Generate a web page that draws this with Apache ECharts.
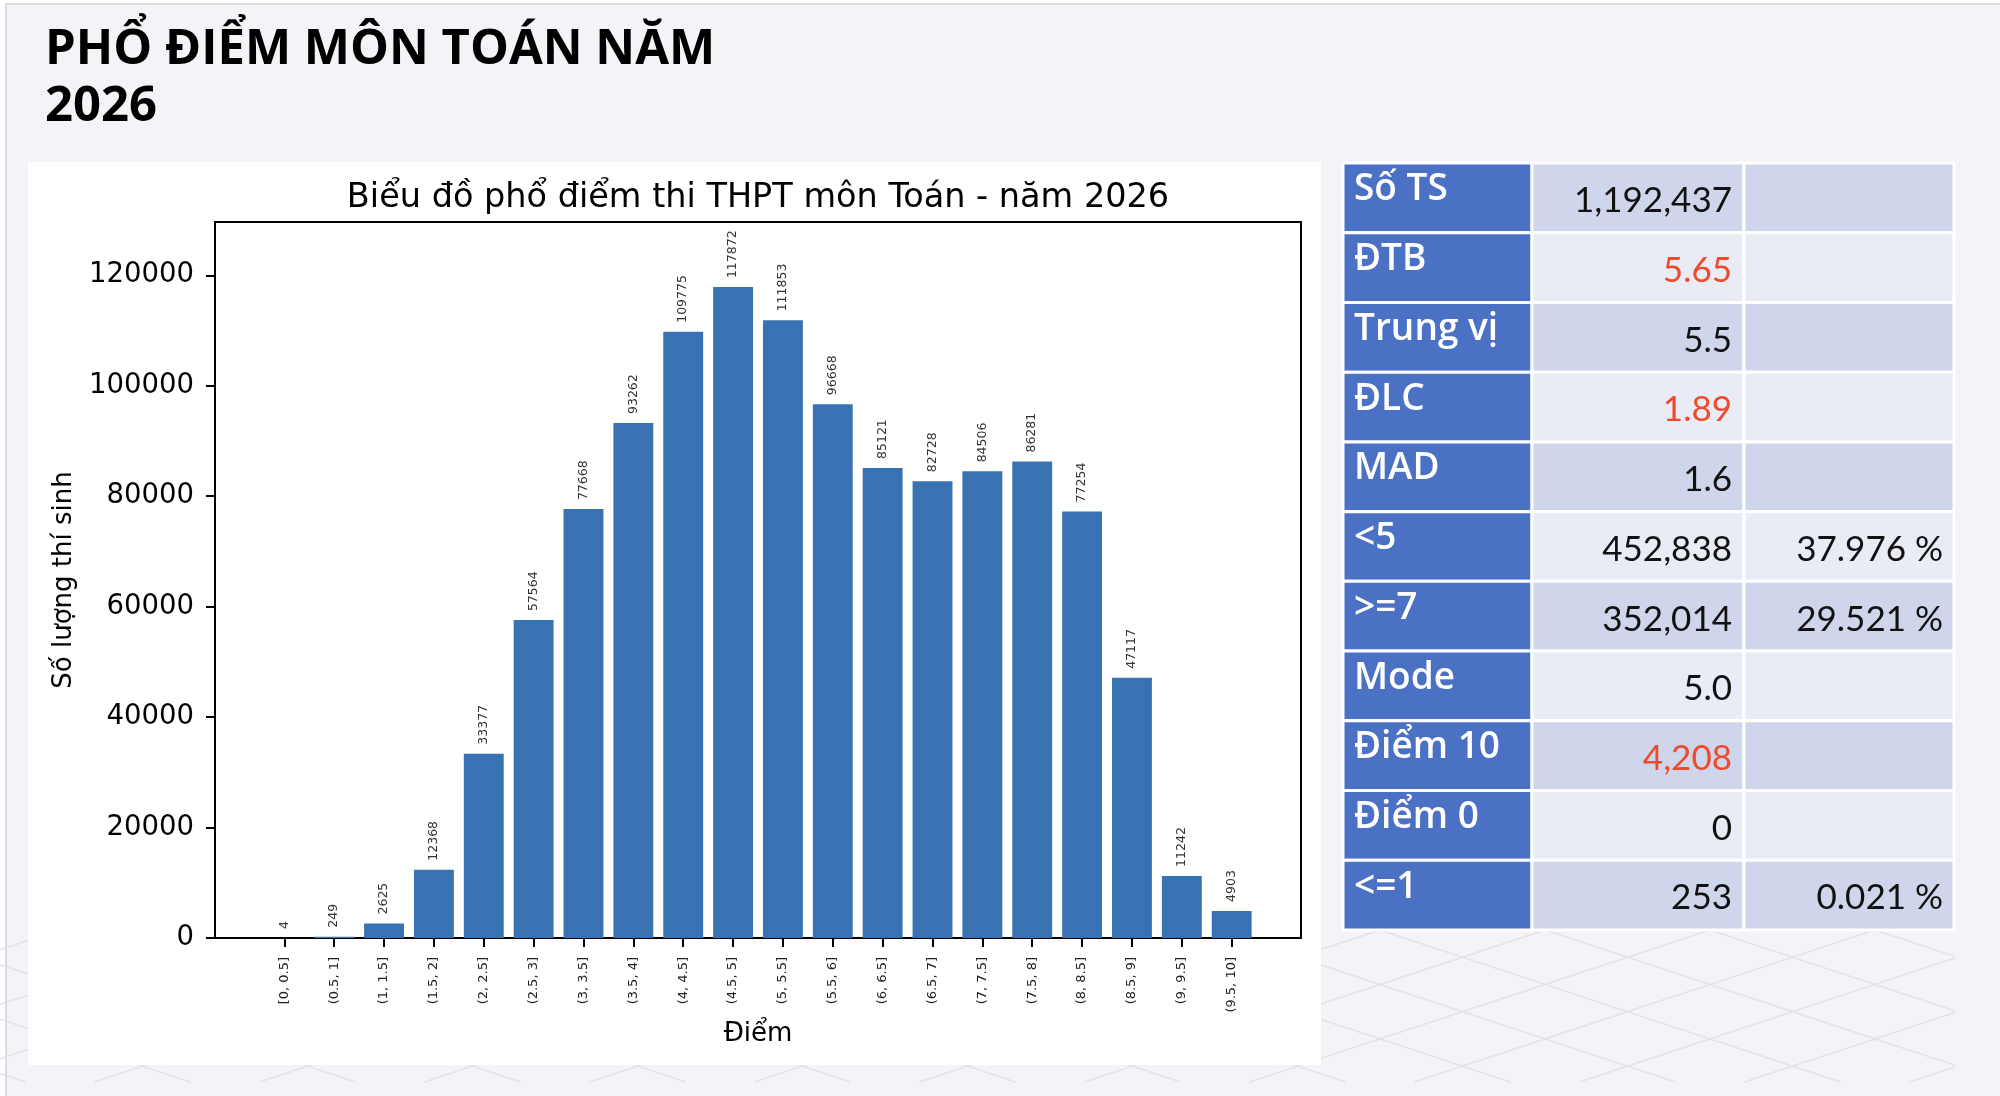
<!DOCTYPE html>
<html>
<head>
<meta charset="utf-8">
<script src="https://cdn.jsdelivr.net/npm/echarts@6.0.0/dist/echarts.min.js"></script>
<style>
html, body { margin: 0; padding: 0; background: #fff; }
#main { width: 2000px; height: 1096px; }
</style>
</head>
<body>
<div id="main"></div>
<script>
// score bins and number of candidates per bin
var scoreBins = ['[0, 0.5]', '(0.5, 1]', '(1, 1.5]', '(1.5, 2]', '(2, 2.5]', '(2.5, 3]', '(3, 3.5]', '(3.5, 4]', '(4, 4.5]', '(4.5, 5]',
    '(5, 5.5]', '(5.5, 6]', '(6, 6.5]', '(6.5, 7]', '(7, 7.5]', '(7.5, 8]', '(8, 8.5]', '(8.5, 9]', '(9, 9.5]', '(9.5, 10]'];
var studentCounts = [4, 249, 2625, 12368, 33377, 57564, 77668, 93262, 109775, 117872,
    111853, 96668, 85121, 82728, 84506, 86281, 77254, 47117, 11242, 4903];
var yTicks = [0, 20000, 40000, 60000, 80000, 100000, 120000];

// summary table
var statLabels = ['Số TS', 'ĐTB', 'Trung vị', 'ĐLC', 'MAD', '<5', '>=7', 'Mode', 'Điểm 10', 'Điểm 0', '<=1'];
var statValues = ['1,192,437', '5.65', '5.5', '1.89', '1.6', '452,838', '352,014', '5.0', '4,208', '0', '253'];
var statPercents = ['', '', '', '', '', '37.976 %', '29.521 %', '', '', '', '0.021 %'];
var redStats = ['ĐTB', 'ĐLC', 'Điểm 10'];

var chart = echarts.init(document.getElementById('main'));

var plot = { left: 215, top: 222, width: 1086, height: 716 };
var xMin = -1.39, xMax = 20.39;
var barW = plot.width / (xMax - xMin) * 0.8;
var mpl = 'DejaVu Sans';
var colEdges = [0, 0.3093, 0.6563, 1];

function lattice() {
    // faint floor pattern behind the panels
    var out = [], y0 = 930, y1 = 1082, s = 0.33, dx = (y1 - y0) / s;
    for (var x = -600; x < 2600; x += 165) {
        [1, -1].forEach(function (d) {
            var ax = x, ay = y0, bx = x + d * dx, by = y1;
            var lo = 0, hi = 1955;
            function clipX(px, py, qx, qy, lim) {
                var t = (lim - px) / (qx - px);
                return [lim, py + t * (qy - py)];
            }
            if (Math.max(ax, bx) < lo || Math.min(ax, bx) > hi) return;
            var p = [ax, ay], q = [bx, by];
            if (p[0] < lo) p = clipX(p[0], p[1], q[0], q[1], lo);
            if (p[0] > hi) p = clipX(p[0], p[1], q[0], q[1], hi);
            if (q[0] < lo) q = clipX(q[0], q[1], p[0], p[1], lo);
            if (q[0] > hi) q = clipX(q[0], q[1], p[0], p[1], hi);
            out.push({
                type: 'line', silent: true, z: -90,
                shape: { x1: p[0], y1: p[1], x2: q[0], y2: q[1] },
                style: { stroke: '#e2e2e8', lineWidth: 1.5 }
            });
        });
    }
    return out;
}

function renderCell(params, api) {
    var c = api.value(0), r = api.value(1);
    var a = api.coord([colEdges[c], r]);
    var b = api.coord([colEdges[c + 1], r]);
    var h = api.size([0, 1])[1];
    var fill = c === 0 ? '#4a71c3' : (r % 2 === 0 ? '#cfd5ea' : '#e9ebf5');
    var kids = [{
        type: 'rect',
        shape: { x: a[0], y: a[1] - h / 2, width: b[0] - a[0], height: h },
        style: { fill: fill, stroke: '#ffffff', lineWidth: 3 }
    }];
    if (c === 0) {
        kids.push({
            type: 'text',
            style: {
                text: statLabels[r], x: a[0] + 11, y: a[1] - 8,
                font: '600 37px "Open Sans"', fill: '#ffffff', align: 'left', verticalAlign: 'middle'
            }
        });
    } else {
        var txt = c === 1 ? statValues[r] : statPercents[r];
        var red = c === 1 && redStats.indexOf(statLabels[r]) >= 0;
        kids.push({
            type: 'text',
            style: {
                text: txt, x: b[0] - (c === 1 ? 12 : 11), y: a[1] + 3,
                font: '400 35px Lato', fill: red ? '#ef4a2c' : '#111111', align: 'right', verticalAlign: 'middle'
            }
        });
    }
    return { type: 'group', children: kids };
}

var cells = [];
statLabels.forEach(function (_, r) {
    for (var c = 0; c < 3; c++) cells.push([c, r]);
});

var option = {
    backgroundColor: '#ffffff',
    animation: false,
    graphic: [{
        type: 'rect', silent: true, z: -100,
        shape: { x: 6, y: 4, width: 2000, height: 1100 },
        style: { fill: '#f4f3f7', stroke: '#d4d4d8', lineWidth: 1.5 }
    }].concat(lattice()).concat([{
        type: 'rect', silent: true, z: -80,
        shape: { x: 28, y: 162, width: 1293, height: 903 },
        style: { fill: '#ffffff' }
    }]),
    title: [{
        text: 'PHỔ ĐIỂM MÔN TOÁN NĂM\n2026',
        left: 45, top: 22, padding: 0,
        textStyle: { fontFamily: 'Open Sans', fontWeight: 700, fontSize: 49, lineHeight: 57, color: '#000' }
    }, {
        text: 'Biểu đồ phổ điểm thi THPT môn Toán - năm 2026',
        left: plot.left + plot.width / 2, top: 181, padding: 0, textAlign: 'center',
        textStyle: { fontFamily: mpl, fontWeight: 400, fontSize: 33.5, color: '#000' }
    }],
    grid: [{
        left: plot.left, top: plot.top, width: plot.width, height: plot.height,
        show: true, borderColor: '#000', borderWidth: 2, backgroundColor: 'transparent'
    }, {
        left: 1343, top: 163, width: 611, height: 767
    }],
    xAxis: [{
        type: 'value', gridIndex: 0, min: xMin, max: xMax,
        name: 'Điểm', nameLocation: 'middle', nameGap: 83,
        nameTextStyle: { fontFamily: mpl, fontSize: 26, color: '#000' },
        axisLine: { show: true, onZero: false, lineStyle: { color: '#000', width: 2 } },
        axisTick: { show: true, length: 9, customValues: scoreBins.map(function (_, i) { return i; }), lineStyle: { color: '#000', width: 2 } },
        axisLabel: {
            customValues: scoreBins.map(function (_, i) { return i; }),
            formatter: function (v) { return scoreBins[Math.round(v)] || ''; },
            rotate: 90, margin: 19, fontFamily: mpl, fontSize: 13, color: '#222'
        },
        splitLine: { show: false }
    }, {
        type: 'value', gridIndex: 1, min: 0, max: 1, show: false
    }],
    yAxis: [{
        type: 'value', gridIndex: 0, min: 0,
        max: function (v) { return v.max * 1.1; },
        name: 'Số lượng thí sinh', nameLocation: 'middle', nameGap: 138, nameRotate: 90,
        nameTextStyle: { fontFamily: mpl, fontSize: 26, color: '#000' },
        axisLine: { show: true, onZero: false, lineStyle: { color: '#000', width: 2 } },
        axisTick: { show: true, length: 9, customValues: yTicks, lineStyle: { color: '#000', width: 2 } },
        axisLabel: {
            customValues: yTicks, margin: 21, fontFamily: mpl, fontSize: 27.5, color: '#000',
            padding: [7, 0, 0, 0],
            formatter: function (v) { return String(v); }
        },
        splitLine: { show: false }
    }, {
        type: 'category', gridIndex: 1, inverse: true, show: false,
        data: statLabels
    }],
    series: [{
        type: 'bar', xAxisIndex: 0, yAxisIndex: 0,
        barWidth: barW,
        data: studentCounts.map(function (v, i) { return [i, v]; }),
        itemStyle: { color: '#3872b2' },
        label: {
            show: true, position: 'top', distance: 9, rotate: 90,
            align: 'left', verticalAlign: 'middle',
            fontFamily: mpl, fontSize: 12.5, color: '#333',
            formatter: function (p) { return String(p.value[1]); }
        }
    }, {
        type: 'custom', xAxisIndex: 1, yAxisIndex: 1,
        renderItem: renderCell,
        encode: { x: 0, y: 1 },
        data: cells
    }]
};

chart.setOption(option);
</script>
</body>
</html>
